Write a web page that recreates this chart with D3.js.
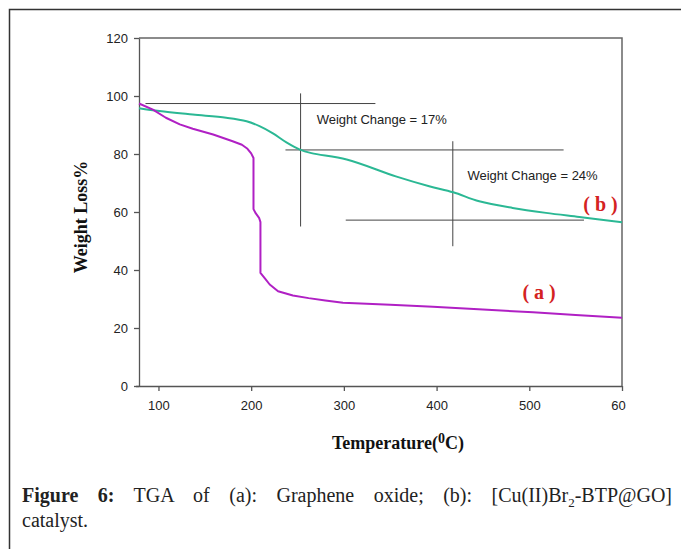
<!DOCTYPE html>
<html>
<head>
<meta charset="utf-8">
<script src="https://cdnjs.cloudflare.com/ajax/libs/d3/7.8.5/d3.min.js"></script>
<style>
  body { margin: 0; background: #fff; }
  svg { display: block; }
</style>
</head>
<body>
<div id="chart"></div>
<script>
// TGA curves (temperature in deg C, weight %)
var temp_a   = [79, 94, 108, 123, 137, 159, 180, 190, 196, 200, 202.5, 202.5, 205, 208.5, 210, 210, 215, 220, 229, 245, 262, 280, 299, 350, 396, 450, 504, 550, 600];
var weight_a = [97.4, 95.3, 92.5, 90.2, 88.7, 86.7, 84.4, 83.2, 81.8, 80.2, 78.6, 61, 59.5, 58, 56.5, 39, 37, 35, 32.7, 31.2, 30.3, 29.5, 28.7, 28, 27.3, 26.4, 25.4, 24.5, 23.5];

var temp_b   = [79, 101, 137, 173, 195, 209, 223, 238, 252, 265, 303, 356, 392, 418, 446, 482, 518, 554, 600];
var weight_b = [95.8, 94.8, 93.6, 92.5, 91.3, 89.6, 87.2, 84.0, 81.6, 80.3, 78.1, 72.3, 68.9, 66.8, 63.7, 61.4, 59.7, 58.3, 56.5];

var x_ticks = [100, 200, 300, 400, 500, 600];
var x_tick_labels = ["100", "200", "300", "400", "500", "60"];
var y_ticks = [0, 20, 40, 60, 80, 100, 120];

// annotation guide lines [x1, y1, x2, y2] in data units
var guide_lines = [
  [86, 97.4, 334, 97.4],
  [253.3, 100.9, 253.3, 55],
  [237, 81.4, 537, 81.4],
  [417.5, 84.4, 417.5, 48.2],
  [302, 57.2, 559, 57.2]
];
var note_text = ["Weight Change = 17%", "Weight Change = 24%"];
var note_pos  = [[270.6, 90.2], [433.3, 71.2]];
var series_names = ["( a )", "( b )"];
var series_name_pos = [[492.6, 30.0], [558.3, 60.5]];

var W = 681, H = 549;
var svg = d3.select("#chart").append("svg")
  .attr("width", W)
  .attr("height", H);

svg.append("rect").attr("width", W).attr("height", H).attr("fill", "#fff");

// outer frame of the figure, cut by the image edge on the right and bottom
svg.append("rect")
  .attr("x", 9.5).attr("y", 9.5)
  .attr("width", 720).attr("height", 600)
  .attr("fill", "none")
  .attr("stroke", "#333")
  .attr("stroke-width", 1.5);

var x = d3.scaleLinear().domain([79, 600]).range([139, 622]);
var y = d3.scaleLinear().domain([0, 120]).range([386, 38]);

// plot box top / right
svg.append("path")
  .attr("d", "M" + x(79) + "," + y(120) + "H" + x(600) + "V" + y(0))
  .attr("fill", "none")
  .attr("stroke", "#666")
  .attr("stroke-width", 1.5);

var xAxis = d3.axisBottom(x)
  .tickValues(x_ticks)
  .tickSize(5)
  .tickSizeOuter(0)
  .tickPadding(10)
  .tickFormat(function(d, i) { return x_tick_labels[i]; });

var yAxis = d3.axisLeft(y)
  .tickValues(y_ticks)
  .tickSize(5)
  .tickSizeOuter(0)
  .tickPadding(6);

var gx = svg.append("g")
  .attr("transform", "translate(0," + y(0) + ")")
  .call(xAxis);
var gy = svg.append("g")
  .attr("transform", "translate(" + x(79) + ",0)")
  .call(yAxis);

[gx, gy].forEach(function(g) {
  g.selectAll("path, line").attr("stroke", "#555").attr("stroke-width", 1.3);
  g.selectAll("text")
    .attr("fill", "#222")
    .style("font-family", "'Liberation Sans', Arial, sans-serif")
    .style("font-size", "13px");
});
gx.select("path").attr("d", "M136,0.5H" + x(600));
// last label is cut at the image edge in the original ("60")
gx.selectAll(".tick text").filter(function(d) { return d === 600; }).attr("dx", -4);

// guide lines
svg.selectAll(".guide")
  .data(guide_lines)
  .enter().append("line")
    .attr("class", "guide")
    .attr("x1", function(d) { return x(d[0]); })
    .attr("y1", function(d) { return y(d[1]); })
    .attr("x2", function(d) { return x(d[2]); })
    .attr("y2", function(d) { return y(d[3]); })
    .attr("stroke", "#444")
    .attr("stroke-width", 1);

// curves
var data_a = temp_a.map(function(t, i) { return [t, weight_a[i]]; });
var data_b = temp_b.map(function(t, i) { return [t, weight_b[i]]; });

svg.append("path")
  .datum(data_b)
  .attr("fill", "none")
  .attr("stroke", "#2bb894")
  .attr("stroke-width", 2)
  .attr("d", d3.line()
    .x(function(d) { return x(d[0]); })
    .y(function(d) { return y(d[1]); })
    .curve(d3.curveCatmullRom.alpha(0.5)));

svg.append("path")
  .datum(data_a)
  .attr("fill", "none")
  .attr("stroke", "#b020c4")
  .attr("stroke-width", 2)
  .attr("stroke-linejoin", "round")
  .attr("d", d3.line()
    .x(function(d) { return x(d[0]); })
    .y(function(d) { return y(d[1]); }));

// annotations
svg.selectAll(".note")
  .data(note_text)
  .enter().append("text")
    .attr("class", "note")
    .attr("x", function(d, i) { return x(note_pos[i][0]); })
    .attr("y", function(d, i) { return y(note_pos[i][1]); })
    .attr("fill", "#222")
    .style("font-family", "'Liberation Sans', Arial, sans-serif")
    .style("font-size", "13px")
    .text(function(d) { return d; });

svg.selectAll(".sname")
  .data(series_names)
  .enter().append("text")
    .attr("class", "sname")
    .attr("x", function(d, i) { return x(series_name_pos[i][0]); })
    .attr("y", function(d, i) { return y(series_name_pos[i][1]); })
    .attr("fill", "#d42222")
    .style("font-family", "'Liberation Serif', 'Times New Roman', serif")
    .style("font-weight", "bold")
    .style("font-size", "20px")
    .style("white-space", "pre")
    .text(function(d) { return d; });

// axis titles
svg.append("text")
  .attr("transform", "translate(87,217) rotate(-90)")
  .attr("text-anchor", "middle")
  .attr("fill", "#111")
  .style("font-family", "'Liberation Serif', 'Times New Roman', serif")
  .style("font-weight", "bold")
  .style("font-size", "18px")
  .text("Weight Loss%");

var xt = svg.append("text")
  .attr("x", 398).attr("y", 449)
  .attr("text-anchor", "middle")
  .attr("fill", "#111")
  .style("font-family", "'Liberation Serif', 'Times New Roman', serif")
  .style("font-weight", "bold")
  .style("font-size", "18px");
xt.append("tspan").text("Temperature(");
xt.append("tspan").attr("dy", -6).style("font-size", "14px").text("0");
xt.append("tspan").attr("dy", 6).text("C)");

// caption, first line justified to x = 672
var cap = svg.append("text")
  .attr("x", 22).attr("y", 502)
  .attr("fill", "#222")
  .style("font-family", "'Liberation Serif', 'Times New Roman', serif")
  .style("font-size", "20px");
cap.append("tspan").style("font-weight", "bold").text("Figure 6:");
cap.append("tspan").text(" TGA of (a): Graphene oxide; (b): [Cu(II)Br");
cap.append("tspan").attr("dy", 5).style("font-size", "13px").text("2");
cap.append("tspan").attr("dy", -5).text("-BTP@GO]");
var capLen = cap.node().getBBox().width;
cap.style("word-spacing", Math.max(0, (650 - capLen) / 8) + "px");

svg.append("text")
  .attr("x", 22).attr("y", 527)
  .attr("fill", "#222")
  .style("font-family", "'Liberation Serif', 'Times New Roman', serif")
  .style("font-size", "20px")
  .text("catalyst.");
</script>
</body>
</html>
